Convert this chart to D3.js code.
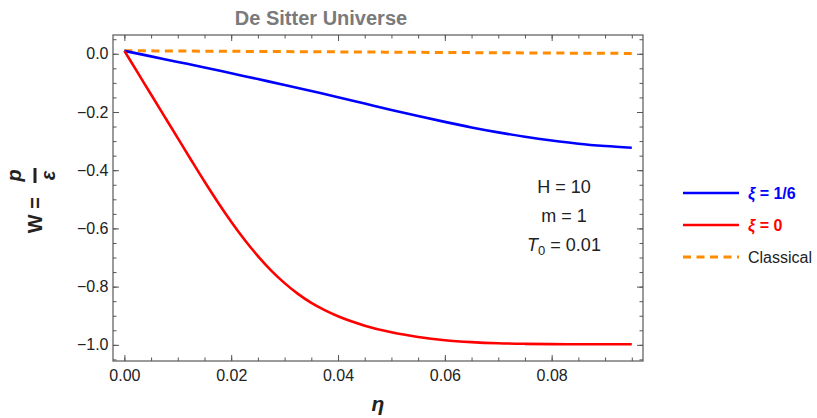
<!DOCTYPE html>
<html>
<head>
<meta charset="utf-8">
<script src="https://cdn.jsdelivr.net/npm/d3@7"></script>
<style>
  html, body { margin: 0; padding: 0; background: #fff; }
  svg { display: block; font-family: "Liberation Sans", Arial, sans-serif; }
  .tick text { font-size: 16px; fill: #222; font-family: "Liberation Sans", Arial, sans-serif; }
</style>
</head>
<body>
<div id="chart"></div>
<script>
// data
const etaBlue = [0, 0.005, 0.01, 0.015, 0.02, 0.025, 0.03, 0.035, 0.04, 0.045,
                 0.05, 0.055, 0.06, 0.065, 0.07, 0.075, 0.08, 0.085, 0.09, 0.095];
const wBlue = [0.01, -0.009, -0.028, -0.047, -0.067, -0.087, -0.107, -0.128, -0.149, -0.171,
               -0.193, -0.214, -0.234, -0.253, -0.270, -0.285, -0.298, -0.309, -0.317, -0.323];

const etaRed = [0, 0.0025, 0.005, 0.0075, 0.01, 0.0125, 0.015, 0.0175, 0.02, 0.0225,
                0.025, 0.0275, 0.03, 0.0325, 0.035, 0.0375, 0.04, 0.045, 0.05, 0.055,
                0.06, 0.065, 0.07, 0.075, 0.08, 0.085, 0.09, 0.095];
const wRed = [0.01, -0.065, -0.14, -0.215, -0.29, -0.365, -0.439, -0.51, -0.577, -0.639,
              -0.695, -0.745, -0.788, -0.825, -0.856, -0.881, -0.902, -0.934, -0.957, -0.973,
              -0.984, -0.9905, -0.9945, -0.9965, -0.9975, -0.998, -0.998, -0.998];

const etaClassical = [0, 0.02, 0.04, 0.06, 0.08, 0.095];
const wClassical = [0.0105, 0.0085, 0.0065, 0.0045, 0.0025, 0.0012];

const xMajor = [0, 0.02, 0.04, 0.06, 0.08];
const xMinor = d3.range(0, 0.0971, 0.005);
const yMajor = [0, -0.2, -0.4, -0.6, -0.8, -1.0];
const yMinor = d3.range(-1.05, 0.0501, 0.05);

const params = ["H = 10", "m = 1"];
const legendItems = [
  { label: "= 1/6", color: "#0000ff", dash: null, greek: true },
  { label: "= 0", color: "#ff0000", dash: null, greek: true },
  { label: "Classical", color: "#ff8c00", dash: "8,5.5", greek: false }
];

const width = 817, height = 418;
const svg = d3.select("#chart").append("svg")
  .attr("width", width)
  .attr("height", height);

const x = d3.scaleLinear().domain([-0.00213, 0.0971]).range([113, 643]);
const y = d3.scaleLinear().domain([-1.0555, 0.0645]).range([361, 35]);

const fmtY = d => d === 0 ? "0.0" : d3.format(".1f")(d).replace("-", "\u2212");

// frame
svg.append("rect")
  .attr("x", x.range()[0]).attr("y", y.range()[1])
  .attr("width", x.range()[1] - x.range()[0])
  .attr("height", y.range()[0] - y.range()[1])
  .attr("fill", "none").attr("stroke", "#666").attr("stroke-width", 1.3);

function addAxis(axis, tx, ty) {
  const g = svg.append("g").attr("transform", `translate(${tx},${ty})`).call(axis);
  g.select(".domain").remove();
  g.selectAll(".tick line").attr("stroke", "#555").attr("stroke-width", 1);
  return g;
}

// bottom / top
addAxis(d3.axisBottom(x).tickValues(xMinor).tickSize(-3.5).tickFormat(""), 0, y.range()[0]);
addAxis(d3.axisBottom(x).tickValues(xMajor).tickSize(-6).tickPadding(9).tickFormat(d3.format(".2f")), 0, y.range()[0]);
addAxis(d3.axisTop(x).tickValues(xMinor).tickSize(-3.5).tickFormat(""), 0, y.range()[1]);
addAxis(d3.axisTop(x).tickValues(xMajor).tickSize(-6).tickFormat(""), 0, y.range()[1]);
// left / right
addAxis(d3.axisLeft(y).tickValues(yMinor).tickSize(-3.5).tickFormat(""), x.range()[0], 0);
addAxis(d3.axisLeft(y).tickValues(yMajor).tickSize(-6).tickPadding(4.5).tickFormat(fmtY), x.range()[0], 0);
addAxis(d3.axisRight(y).tickValues(yMinor).tickSize(-3.5).tickFormat(""), x.range()[1], 0);
addAxis(d3.axisRight(y).tickValues(yMajor).tickSize(-6).tickFormat(""), x.range()[1], 0);

// curves
const line = d3.line()
  .x(d => x(d[0]))
  .y(d => y(d[1]))
  .curve(d3.curveMonotoneX);

const plot = svg.append("g");
plot.append("path")
  .datum(d3.zip(etaClassical, wClassical))
  .attr("d", line)
  .attr("fill", "none").attr("stroke", "#ff8c00")
  .attr("stroke-width", 3).attr("stroke-dasharray", "8,5.5");
plot.append("path")
  .datum(d3.zip(etaBlue, wBlue))
  .attr("d", line)
  .attr("fill", "none").attr("stroke", "#0000ff").attr("stroke-width", 2.6);
plot.append("path")
  .datum(d3.zip(etaRed, wRed))
  .attr("d", line)
  .attr("fill", "none").attr("stroke", "#ff0000").attr("stroke-width", 2.6);

// title
svg.append("text")
  .attr("x", 321).attr("y", 25)
  .attr("text-anchor", "middle")
  .attr("font-size", 20).attr("font-weight", "bold")
  .attr("fill", "#7a7a7a")
  .text("De Sitter Universe");

// x label
svg.append("text")
  .attr("x", 378).attr("y", 411)
  .attr("text-anchor", "middle")
  .attr("font-size", 21).attr("font-weight", "bold").attr("font-style", "italic")
  .attr("fill", "#222")
  .text("\u03b7");

// y label: W = p / ε, rotated
const yl = svg.append("g").attr("transform", "translate(35,200) rotate(-90)")
  .attr("fill", "#222").attr("font-weight", "bold");
yl.append("text").attr("x", 3).attr("y", 7).attr("text-anchor", "end")
  .attr("font-size", 20).text("W =");
yl.append("line").attr("x1", 17).attr("x2", 32).attr("y1", 0).attr("y2", 0)
  .attr("stroke", "#222").attr("stroke-width", 3);
yl.append("text").attr("x", 24.5).attr("y", -14).attr("text-anchor", "middle")
  .attr("font-size", 20).attr("font-style", "italic").text("p");
yl.append("text").attr("x", 24.5).attr("y", 19.5).attr("text-anchor", "middle")
  .attr("font-size", 20).attr("font-style", "italic").text("\u03b5");

// parameters text
const ann = svg.append("g").attr("font-size", 18).attr("fill", "#222").attr("text-anchor", "middle");
params.forEach((p, i) => {
  ann.append("text").attr("x", 564).attr("y", 193 + i * 29).text(p);
});
const t0 = ann.append("text").attr("x", 564).attr("y", 251);
t0.append("tspan").attr("font-style", "italic").text("T");
t0.append("tspan").attr("font-size", 13).attr("dy", 4).text("0");
t0.append("tspan").attr("dy", -4).text(" = 0.01");

// legend
const leg = svg.append("g").attr("transform", "translate(683,193)");
legendItems.forEach((d, i) => {
  const row = leg.append("g").attr("transform", `translate(0,${i * 32})`);
  row.append("line").attr("x1", 0).attr("x2", 56).attr("y1", 0).attr("y2", 0)
    .attr("stroke", d.color).attr("stroke-width", d.dash ? 3 : 2.6)
    .attr("stroke-dasharray", d.dash);
  const t = row.append("text").attr("x", 65).attr("y", 5.5).attr("font-size", 16);
  if (d.greek) {
    t.attr("fill", d.color).attr("font-weight", "bold");
    t.append("tspan").attr("font-style", "italic").text("\u03be");
    t.append("tspan").text(" " + d.label);
  } else {
    t.attr("fill", "#222").text(d.label);
  }
});
</script>
</body>
</html>
